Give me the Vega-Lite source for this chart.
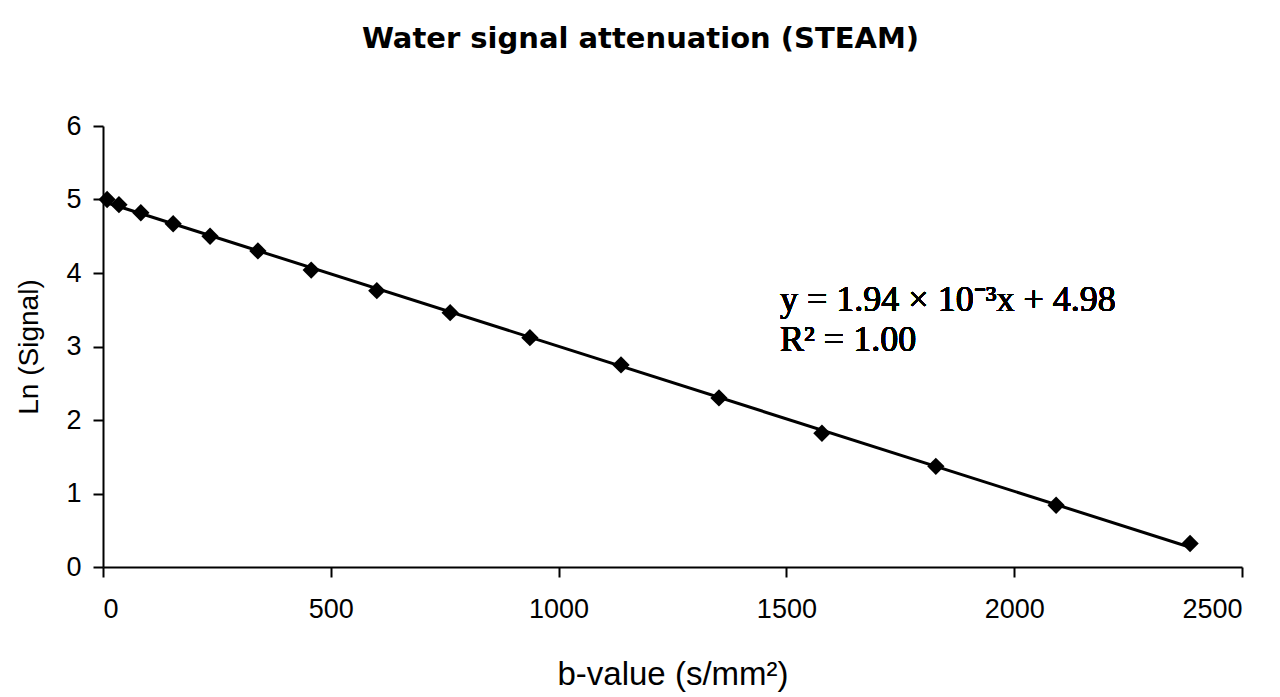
{
  "$schema": "https://vega.github.io/schema/vega-lite/v6.json",
  "autosize": {"type": "none"},
  "width": 1139,
  "height": 441,
  "padding": {"left": 103, "top": 126, "right": 38, "bottom": 130},
  "background": "white",
  "config": {
    "view": {"stroke": null},
    "font": "Liberation Sans",
    "axis": {
      "domainColor": "black", "domainWidth": 2, "tickColor": "black", "tickWidth": 2, "tickSize": 10,
      "labelColor": "black", "titleColor": "black", "labelFont": "Liberation Sans", "titleFont": "Liberation Sans",
      "labelFontSize": 27, "titleFontWeight": "normal", "grid": false
    }
  },
  "title": {
    "text": "Water signal attenuation (STEAM)",
    "font": "DejaVu Sans", "fontSize": 29, "fontWeight": "bold", "color": "black",
    "anchor": "middle", "dx": -32, "offset": 58
  },
  "data": {
    "values": [
      {"b": 9, "lnS": 5.00},
      {"b": 35, "lnS": 4.93},
      {"b": 83, "lnS": 4.82},
      {"b": 154, "lnS": 4.67},
      {"b": 235, "lnS": 4.50},
      {"b": 340, "lnS": 4.30},
      {"b": 457, "lnS": 4.04},
      {"b": 601, "lnS": 3.76},
      {"b": 762, "lnS": 3.46},
      {"b": 937, "lnS": 3.12},
      {"b": 1137, "lnS": 2.75},
      {"b": 1352, "lnS": 2.30},
      {"b": 1578, "lnS": 1.82},
      {"b": 1828, "lnS": 1.37},
      {"b": 2092, "lnS": 0.84},
      {"b": 2386, "lnS": 0.32}
    ]
  },
  "encoding": {
    "x": {
      "field": "b", "type": "quantitative",
      "scale": {"domain": [0, 2500], "nice": false},
      "axis": {"values": [0, 500, 1000, 1500, 2000, 2500], "format": "d", "title": "b-value (s/mm²)",
               "labelFontSize": 27, "titleFontSize": 33, "labelPadding": 19, "titlePadding": 36}
    },
    "y": {
      "field": "lnS", "type": "quantitative",
      "scale": {"domain": [0, 6], "nice": false},
      "axis": {"values": [0, 1, 2, 3, 4, 5, 6], "format": "d", "title": "Ln (Signal)",
               "labelFontSize": 27, "titleFontSize": 28, "labelPadding": 12, "titlePadding": 22}
    }
  },
  "layer": [
    {
      "transform": [{"regression": "lnS", "on": "b", "method": "linear", "extent": [0, 2386]}],
      "mark": {"type": "line", "color": "black", "strokeWidth": 3}
    },
    {
      "mark": {"type": "point", "shape": "diamond", "filled": true, "color": "black", "size": 300, "opacity": 1}
    },
    {
      "mark": {"type": "text", "font": "Liberation Serif", "fontSize": 36, "align": "left", "baseline": "middle", "fill": "black", "lineHeight": 40},
      "encoding": {
        "x": {"datum": 1486},
        "y": {"datum": 3.63},
        "text": {"value": ["y = 1.94 × 10⁻³x + 4.98", "R² = 1.00"]}
      }
    }
  ]
}
